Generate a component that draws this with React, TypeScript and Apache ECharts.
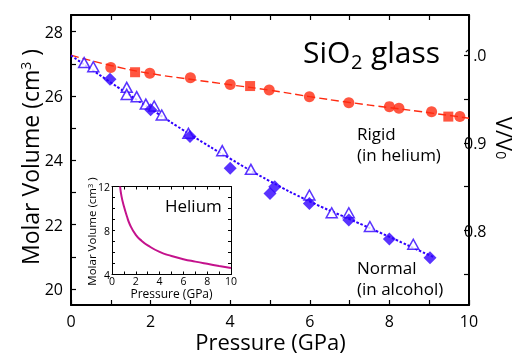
import React, { useEffect, useRef } from "react";
import * as echarts from "echarts";

const FONT = "'Open Sans', 'Noto Sans', sans-serif";
const RED = "#ff2a10";
const BLUE = "#3000ff";
const MAGENTA = "#c4128c";

// Reference volume for the V/V0 axis (molar volume at P = 0)
const V0 = 27.27;
const Y_MIN = 19.5;
const Y_MAX = 28.52;

// Ticks and tick labels
const xLabels = [0, 2, 4, 6, 8, 10];
const yTicks = [20, 21, 22, 23, 24, 25, 26, 27, 28];
const yLabels = [20, 22, 24, 26, 28];
const rTicks = [0.75, 0.8, 0.85, 0.9, 0.95, 1.0];
const rLabels = [0.8, 0.9, 1.0];

// Rigid (in helium)
const rigidCircles = [
  [1.0, 26.89], [1.98, 26.71], [3.0, 26.57], [4.0, 26.36], [4.98, 26.19],
  [5.99, 25.98], [6.98, 25.79], [8.0, 25.67], [8.24, 25.62], [9.06, 25.51], [9.77, 25.36],
];
const rigidSquares = [[1.61, 26.74], [4.5, 26.31], [9.48, 25.36]];
const rigidFit = [
  [0, 27.27], [1, 26.95], [2, 26.7], [3, 26.52], [4, 26.35], [5, 26.18],
  [6, 25.98], [7, 25.8], [8, 25.64], [9, 25.48], [10, 25.31],
];

// Normal (in alcohol)
const normalTriangles = [
  [0.33, 27.04], [0.56, 26.91], [1.4, 26.27], [1.4, 26.05], [1.65, 25.98], [1.88, 25.75],
  [2.09, 25.69], [2.28, 25.41], [2.95, 24.84], [3.8, 24.3], [4.52, 23.72], [5.99, 22.92],
  [6.55, 22.37], [6.98, 22.37], [7.51, 21.94], [8.6, 21.39],
];
const normalDiamonds = [
  [0.98, 26.52], [2.0, 25.57], [2.99, 24.74], [4.0, 23.75], [5.12, 23.18], [5.0, 22.97],
  [5.99, 22.66], [6.98, 22.14], [8.0, 21.55], [9.02, 20.97],
];
const normalFit = [
  [0, 27.26], [1, 26.42], [2, 25.6], [3, 24.8], [4, 24.05], [5, 23.35],
  [6, 22.72], [7, 22.17], [8, 21.62], [9, 21.05], [9.1, 21.0],
];

// Inset: helium molar volume
const heliumCurve = [
  [0.68, 12.0], [0.8, 11.1], [1.0, 10.2], [1.25, 9.3], [1.5, 8.55], [2, 7.6], [2.5, 7.05],
  [3, 6.65], [4, 6.05], [5, 5.68], [6, 5.39], [7, 5.17], [8, 4.97], [9, 4.78], [10, 4.6],
];
const insetXLabels = [0, 2, 4, 6, 8, 10];
const insetYLabels = [4, 8, 12];

function txt(x: number, y: number, text: string, size: number, align = "left", valign = "middle", extra: any = {}) {
  return {
    type: "text",
    x,
    y,
    z: 100,
    style: {
      text,
      fontSize: size,
      fontFamily: FONT,
      fill: "#000",
      align,
      verticalAlign: valign,
      textAlign: align,
      textVerticalAlign: valign,
      ...(extra.style || {}),
    },
  };
}

const inList = (list: number[]) => (v: number) =>
  list.some((t) => Math.abs(t - v) < 1e-6) ? String(v) : "";

export default function App() {
  const ref = useRef<HTMLDivElement>(null);
  useEffect(() => {
    if (!ref.current) return;
    const chart = echarts.init(ref.current, undefined, { renderer: "svg" });
    const axisLine = () => ({ show: true, onZero: false, lineStyle: { color: "#000", width: 2 } });
    const tick = (len = 5, w = 1.2, vals?: number[]) => {
      const t: any = { show: true, inside: true, length: len, lineStyle: { color: "#000", width: w } };
      if (vals) t.customValues = vals.slice();
      return t;
    };
    const insetLine = () => ({ show: true, onZero: false, lineStyle: { color: "#000", width: 1 } });
    const option: any = {
      animation: false,
      textStyle: { fontFamily: FONT },
      grid: [
        { left: 71, right: 51, top: 15, bottom: 49 },
        { left: 112, top: 186.5, width: 119, height: 88, show: true, backgroundColor: "#fff", borderWidth: 0 },
      ],
      xAxis: [
        {
          gridIndex: 0, type: "value", min: 0, max: 10, interval: 1, position: "bottom",
          axisLine: axisLine(), axisTick: tick(), splitLine: { show: false },
          axisLabel: { formatter: inList(xLabels), color: "#000", fontSize: 16, lineHeight: 16, margin: 8, fontFamily: FONT },
        },
        {
          gridIndex: 0, type: "value", min: 0, max: 10, interval: 1, position: "top",
          axisLine: axisLine(), axisTick: tick(), splitLine: { show: false }, axisLabel: { show: false },
        },
        {
          gridIndex: 1, type: "value", min: 0, max: 10, interval: 1, position: "bottom",
          axisLine: insetLine(), axisTick: tick(3, 1), splitLine: { show: false },
          axisLabel: { formatter: inList(insetXLabels), color: "#000", fontSize: 10.5, lineHeight: 10, margin: 1, fontFamily: FONT },
        },
        {
          gridIndex: 1, type: "value", min: 0, max: 10, interval: 1, position: "top",
          axisLine: insetLine(), axisTick: tick(3, 1), splitLine: { show: false }, axisLabel: { show: false },
        },
      ],
      yAxis: [
        {
          gridIndex: 0, type: "value", min: Y_MIN, max: Y_MAX, position: "left",
          axisLine: axisLine(), axisTick: tick(5, 1.2, yTicks), splitLine: { show: false },
          axisLabel: { customValues: yLabels.slice(), color: "#000", fontSize: 16, margin: 8, fontFamily: FONT },
        },
        {
          gridIndex: 0, type: "value", min: Y_MIN / V0, max: Y_MAX / V0, position: "right",
          axisLine: axisLine(), axisTick: tick(5, 1.2, rTicks), splitLine: { show: false },
          axisLabel: {
            customValues: rLabels.slice(), color: "#000", fontSize: 16, margin: -5, fontFamily: FONT,
            formatter: (v: number) => v.toFixed(1),
          },
        },
        {
          gridIndex: 1, type: "value", min: 4, max: 12, interval: 1, position: "left",
          axisLine: insetLine(), axisTick: tick(3, 1), splitLine: { show: false },
          axisLabel: { formatter: inList(insetYLabels), color: "#000", fontSize: 10.5, margin: 2, fontFamily: FONT },
        },
        {
          gridIndex: 1, type: "value", min: 4, max: 12, interval: 1, position: "right",
          axisLine: insetLine(), axisTick: tick(3, 1), splitLine: { show: false }, axisLabel: { show: false },
        },
      ],
      series: [
        {
          type: "line", xAxisIndex: 0, yAxisIndex: 0, data: rigidFit, smooth: true, symbol: "none",
          lineStyle: { color: RED, width: 1.4, type: [8, 4] }, z: 2,
        },
        {
          type: "line", xAxisIndex: 0, yAxisIndex: 0, data: normalFit, smooth: true, symbol: "none",
          lineStyle: { color: BLUE, width: 2, type: [2.5, 1.8] }, z: 2,
        },
        {
          type: "scatter", xAxisIndex: 0, yAxisIndex: 0, data: rigidCircles, symbol: "circle", symbolSize: 11,
          itemStyle: { color: RED }, z: 3,
        },
        {
          type: "scatter", xAxisIndex: 0, yAxisIndex: 0, data: rigidSquares, symbol: "rect", symbolSize: 10,
          itemStyle: { color: RED }, z: 3,
        },
        {
          type: "scatter", xAxisIndex: 0, yAxisIndex: 0, data: normalTriangles, symbol: "triangle", symbolSize: [11, 10],
          itemStyle: { color: "#fff", borderColor: BLUE, borderWidth: 1.5 }, z: 3,
        },
        {
          type: "scatter", xAxisIndex: 0, yAxisIndex: 0, data: normalDiamonds, symbol: "diamond", symbolSize: 13,
          itemStyle: { color: BLUE }, z: 4,
        },
        {
          type: "line", xAxisIndex: 2, yAxisIndex: 2, data: heliumCurve, smooth: true, symbol: "none",
          lineStyle: { color: MAGENTA, width: 2 }, z: 3,
        },
      ],
      graphic: [
        txt(303, 51.7, "SiO", 30),
        txt(351, 61, "2", 20),
        txt(371, 51.7, "glass", 30),
        txt(357, 123, "Rigid\n(in helium)", 17, "left", "top", { style: { lineHeight: 21 } }),
        txt(357, 257, "Normal\n(in alcohol)", 17, "left", "top", { style: { lineHeight: 21 } }),
        txt(165, 205, "Helium", 17),
        txt(270.5, 341, "Pressure (GPa)", 22, "center", "middle", { style: { lineHeight: 22 } }),
        txt(171.5, 293, "Pressure (GPa)", 12, "center", "middle", { style: { lineHeight: 12 } }),
        {
          type: "text", x: 30, y: 157, rotation: Math.PI / 2, z: 100,
          style: {
            text: "{m|Molar Volume (cm}{s|3}{m| )}",
            rich: {
              m: { fontSize: 23, fontFamily: FONT, fill: "#000" },
              s: { fontSize: 14, fontFamily: FONT, fill: "#000", verticalAlign: "top" },
            },
            align: "center", verticalAlign: "middle", textAlign: "center", textVerticalAlign: "middle",
          },
        },
        {
          type: "text", x: 91.5, y: 231.5, rotation: Math.PI / 2, z: 100,
          style: {
            text: "{m|Molar Volume (cm}{s|3}{m| )}",
            rich: {
              m: { fontSize: 11.5, fontFamily: FONT, fill: "#000" },
              s: { fontSize: 7.5, fontFamily: FONT, fill: "#000", verticalAlign: "top" },
            },
            align: "center", verticalAlign: "middle", textAlign: "center", textVerticalAlign: "middle",
          },
        },
        {
          type: "text", x: 505, y: 138, rotation: -Math.PI / 2, z: 100,
          style: {
            text: "{m|V/V}{s|0}",
            rich: {
              m: { fontSize: 22, fontFamily: FONT, fill: "#000" },
              s: { fontSize: 14, fontFamily: FONT, fill: "#000", verticalAlign: "bottom" },
            },
            align: "center", verticalAlign: "middle", textAlign: "center", textVerticalAlign: "middle",
          },
        },
      ],
    };
    chart.setOption(option);
    return () => chart.dispose();
  }, []);
  return <div ref={ref} style={{ width: 520, height: 354, position: "fixed", left: 0, top: 0 }} />;
}
